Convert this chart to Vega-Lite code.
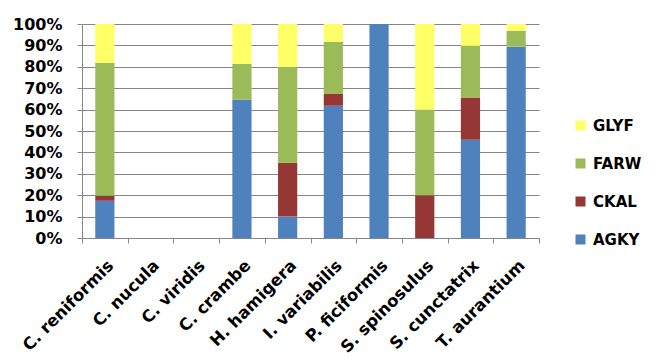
{
  "$schema": "https://vega.github.io/schema/vega-lite/v6.json",
  "width": 457,
  "height": 214,
  "autosize": {"type": "none"},
  "padding": {"left": 82, "top": 24, "right": 125, "bottom": 124},
  "background": "white",
  "config": {
    "view": {"stroke": null},
    "font": "DejaVu Sans",
    "axis": {"labelFont": "DejaVu Sans", "labelFontWeight": "bold", "labelFontSize": 16, "labelColor": "black"},
    "legend": {"labelFont": "DejaVu Sans", "labelFontWeight": "bold", "labelFontSize": 15, "labelColor": "black"}
  },
  "data": {
    "values": [
      {"species": "C. reniformis", "peptide": "AGKY", "share": 0.174},
      {"species": "C. reniformis", "peptide": "CKAL", "share": 0.024},
      {"species": "C. reniformis", "peptide": "FARW", "share": 0.621},
      {"species": "C. reniformis", "peptide": "GLYF", "share": 0.181},
      {"species": "C. nucula", "peptide": "AGKY", "share": 0},
      {"species": "C. viridis", "peptide": "AGKY", "share": 0},
      {"species": "C. crambe", "peptide": "AGKY", "share": 0.646},
      {"species": "C. crambe", "peptide": "CKAL", "share": 0},
      {"species": "C. crambe", "peptide": "FARW", "share": 0.168},
      {"species": "C. crambe", "peptide": "GLYF", "share": 0.186},
      {"species": "H. hamigera", "peptide": "AGKY", "share": 0.10},
      {"species": "H. hamigera", "peptide": "CKAL", "share": 0.252},
      {"species": "H. hamigera", "peptide": "FARW", "share": 0.448},
      {"species": "H. hamigera", "peptide": "GLYF", "share": 0.20},
      {"species": "I. variabilis", "peptide": "AGKY", "share": 0.618},
      {"species": "I. variabilis", "peptide": "CKAL", "share": 0.055},
      {"species": "I. variabilis", "peptide": "FARW", "share": 0.244},
      {"species": "I. variabilis", "peptide": "GLYF", "share": 0.083},
      {"species": "P. ficiformis", "peptide": "AGKY", "share": 1.0},
      {"species": "S. spinosulus", "peptide": "AGKY", "share": 0},
      {"species": "S. spinosulus", "peptide": "CKAL", "share": 0.20},
      {"species": "S. spinosulus", "peptide": "FARW", "share": 0.40},
      {"species": "S. spinosulus", "peptide": "GLYF", "share": 0.40},
      {"species": "S. cunctatrix", "peptide": "AGKY", "share": 0.459},
      {"species": "S. cunctatrix", "peptide": "CKAL", "share": 0.197},
      {"species": "S. cunctatrix", "peptide": "FARW", "share": 0.242},
      {"species": "S. cunctatrix", "peptide": "GLYF", "share": 0.102},
      {"species": "T. aurantium", "peptide": "AGKY", "share": 0.894},
      {"species": "T. aurantium", "peptide": "CKAL", "share": 0},
      {"species": "T. aurantium", "peptide": "FARW", "share": 0.075},
      {"species": "T. aurantium", "peptide": "GLYF", "share": 0.031}
    ]
  },
  "mark": {"type": "bar", "width": {"band": 0.42}},
  "encoding": {
    "x": {
      "field": "species", "type": "nominal",
      "sort": ["C. reniformis", "C. nucula", "C. viridis", "C. crambe", "H. hamigera", "I. variabilis", "P. ficiformis", "S. spinosulus", "S. cunctatrix", "T. aurantium"],
      "scale": {"paddingInner": 0, "paddingOuter": 0},
      "axis": {"title": null, "labelAngle": -45, "labelFontSize": 16.5, "tickBand": "extent", "tickSize": 5, "tickColor": "#868686", "domainColor": "#868686", "labelPadding": 14, "labelOffset": 0, "grid": false, "labelOverlap": false}
    },
    "y": {
      "field": "share", "type": "quantitative", "stack": "zero",
      "scale": {"domain": [0, 1], "nice": false},
      "axis": {"title": null, "format": "%", "values": [0, 0.1, 0.2, 0.3, 0.4, 0.5, 0.6, 0.7, 0.8, 0.9, 1], "grid": true, "gridColor": "#868686", "domainColor": "#868686", "tickColor": "#868686", "tickSize": 5, "labelPadding": 15, "labelOverlap": false}
    },
    "color": {
      "field": "peptide", "type": "nominal",
      "scale": {"domain": ["GLYF", "FARW", "CKAL", "AGKY"], "range": ["#FFFF66", "#9BBB59", "#953735", "#4F81BD"]},
      "legend": {"title": null, "orient": "none", "legendX": 491, "legendY": 94, "symbolType": "square", "symbolSize": 100, "symbolStrokeWidth": 0, "symbolOpacity": 1, "rowPadding": 22, "labelOffset": 5}
    },
    "order": {"field": "peptide", "sort": "ascending"}
  }
}
